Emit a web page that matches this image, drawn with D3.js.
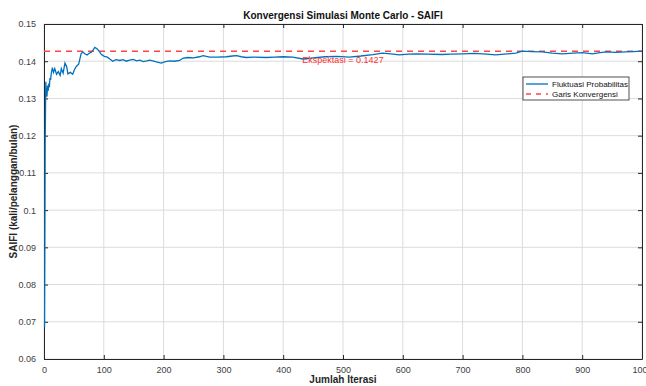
<!DOCTYPE html>
<html>
<head>
<meta charset="utf-8">
<script src="https://cdn.jsdelivr.net/npm/d3@7"></script>
<style>
  body { margin: 0; background: #fff; }
  svg { display: block; font-family: "Liberation Sans", Arial, sans-serif; }
</style>
</head>
<body>
<div id="chart"></div>
<script>
// chart size
var width = 646;
var height = 386;
var margin = { top: 24, right: 4, bottom: 27, left: 44 };

// iterations and running mean
const iterasi = [1,2,3,4,5,6,7,8,9,10,11,12,14,16,18,21,24,27,29,32,35,38,40,44,48,51,54,58,62,65,68,72,76,79,82,85,88,90,93,96,101,106,110,115,120,127,132,138,143,149,155,160,166,172,177,182,188,196,203,210,218,227,232,240,250,260,266,277,290,305,315,322,330,338,350,372,385,400,416,433,450,470,490,511,530,550,566,580,594,610,622,640,666,680,700,720,740,755,770,789,800,815,833,850,867,885,900,917,930,940,955,973,985,1000];
const probabilitas = [0.0686,0.1180,0.1345,0.1310,0.1305,0.1335,0.1320,0.1340,0.1330,0.1355,0.1350,0.1365,0.1383,0.1370,0.1380,0.1365,0.1372,0.1362,0.1380,0.1368,0.1395,0.1385,0.1366,0.1370,0.1365,0.1378,0.1386,0.1392,0.1420,0.1425,0.1420,0.1417,0.1422,0.1424,0.1430,0.1437,0.1434,0.1431,0.1425,0.1418,0.1413,0.1411,0.1406,0.1400,0.1404,0.1402,0.1404,0.1400,0.1403,0.1405,0.1401,0.1403,0.1399,0.1401,0.1403,0.1401,0.1398,0.1395,0.1399,0.1401,0.1400,0.1402,0.1408,0.1410,0.1409,0.1412,0.1415,0.1411,0.1411,0.1412,0.1414,0.1415,0.1412,0.1410,0.1411,0.1410,0.1411,0.1412,0.1411,0.1406,0.1409,0.1412,0.1413,0.1411,0.1414,0.1418,0.1422,0.1420,0.1417,0.1419,0.1420,0.1419,0.1418,0.1419,0.1420,0.1421,0.1419,0.1417,0.1419,0.1422,0.1427,0.1426,0.1425,0.1422,0.1420,0.1422,0.1423,0.1420,0.1423,0.1425,0.1424,0.1425,0.1426,0.1427];
const ekspektasi = 0.1427;

const xTicks = [0,100,200,300,400,500,600,700,800,900,1000];
const yTicks = [0.06,0.07,0.08,0.09,0.1,0.11,0.12,0.13,0.14,0.15];

const data = iterasi.map((d, i) => ({ x: d, y: probabilitas[i] }));

var svg = d3.select("#chart").append("svg")
  .attr("width", width)
  .attr("height", height);

var iw = width - margin.left - margin.right;
var ih = height - margin.top - margin.bottom;
var g = svg.append("g").attr("transform", "translate(" + margin.left + "," + margin.top + ")");

var x = d3.scaleLinear().domain([0, 1000]).range([0, 598]);
var y = d3.scaleLinear().domain([0.06, 0.15]).range([335, 0]);
var pw = 598, ph = 335;

// grid
g.append("g").selectAll("line").data(xTicks).enter().append("line")
  .attr("x1", d => x(d)).attr("x2", d => x(d))
  .attr("y1", 0).attr("y2", ph)
  .attr("stroke", "#dcdcdc").attr("stroke-width", 1);
g.append("g").selectAll("line").data(yTicks).enter().append("line")
  .attr("x1", 0).attr("x2", pw)
  .attr("y1", d => y(d)).attr("y2", d => y(d))
  .attr("stroke", "#dcdcdc").attr("stroke-width", 1);

// axes (MATLAB style: ticks inside, box on)
var axColor = "#262626";
var xb = g.append("g").attr("transform", "translate(0," + ph + ")")
  .call(d3.axisBottom(x).tickValues(xTicks).tickSizeInner(-4).tickSizeOuter(0).tickPadding(8).tickFormat(d3.format("d")));
var yl = g.append("g")
  .call(d3.axisLeft(y).tickValues(yTicks).tickSizeInner(-4).tickSizeOuter(0).tickPadding(8).tickFormat(d => d == 0.1 ? "0.1" : d3.format(".2f")(d)));
var xt = g.append("g")
  .call(d3.axisTop(x).tickValues(xTicks).tickSizeInner(-4).tickSizeOuter(0).tickFormat(""));
var yr = g.append("g").attr("transform", "translate(" + pw + ",0)")
  .call(d3.axisRight(y).tickValues(yTicks).tickSizeInner(-4).tickSizeOuter(0).tickFormat(""));

[xb, yl, xt, yr].forEach(a => {
  a.select(".domain").attr("stroke", axColor).attr("stroke-width", 1);
  a.selectAll(".tick line").attr("stroke", axColor);
  a.selectAll("text").attr("fill", "#404040").style("font-size", "9px")
    .style("font-family", "Liberation Sans, Arial, sans-serif");
});

// convergence line
g.append("line")
  .attr("x1", 0).attr("x2", pw)
  .attr("y1", y(ekspektasi)).attr("y2", y(ekspektasi))
  .attr("stroke", "#ff4545").attr("stroke-width", 1.5)
  .attr("stroke-dasharray", "6,5");

// running mean line
var line = d3.line().x(d => x(d.x)).y(d => y(d.y));
g.append("path").datum(data)
  .attr("d", line)
  .attr("fill", "none")
  .attr("stroke", "#0072BD")
  .attr("stroke-width", 1.3);

// annotation
g.append("text")
  .attr("x", x(432)).attr("y", y(ekspektasi) + 12)
  .attr("fill", "#ff3030")
  .style("font-size", "9px")
  .text("Ekspektasi = " + ekspektasi);

// title
svg.append("text")
  .attr("x", margin.left + pw / 2).attr("y", 19)
  .attr("text-anchor", "middle")
  .style("font-size", "10px").style("font-weight", "bold")
  .attr("fill", "#111")
  .text("Konvergensi Simulasi Monte Carlo - SAIFI");

// axis labels
svg.append("text")
  .attr("x", margin.left + pw / 2).attr("y", 383)
  .attr("text-anchor", "middle")
  .style("font-size", "10px").style("font-weight", "bold")
  .attr("fill", "#262626")
  .text("Jumlah Iterasi");
svg.append("text")
  .attr("transform", "translate(17," + (margin.top + ph / 2) + ") rotate(-90)")
  .attr("text-anchor", "middle")
  .style("font-size", "10px").style("font-weight", "bold")
  .attr("fill", "#262626")
  .text("SAIFI (kali/pelanggan/bulan)");

// legend
var lg = svg.append("g").attr("transform", "translate(523,77)");
lg.append("rect").attr("width", 106).attr("height", 23)
  .attr("fill", "#fff").attr("stroke", "#262626").attr("stroke-width", 0.8);
lg.append("line").attr("x1", 3).attr("x2", 25).attr("y1", 7).attr("y2", 7)
  .attr("stroke", "#0072BD").attr("stroke-width", 1.3);
lg.append("line").attr("x1", 3).attr("x2", 25).attr("y1", 17).attr("y2", 17)
  .attr("stroke", "#ff4545").attr("stroke-width", 1.5).attr("stroke-dasharray", "5,5");
lg.append("text").attr("x", 29).attr("y", 10).style("font-size", "8px").attr("fill", "#111")
  .text("Fluktuasi Probabilitas");
lg.append("text").attr("x", 29).attr("y", 20).style("font-size", "8px").attr("fill", "#111")
  .text("Garis Konvergensi");
</script>
</body>
</html>
